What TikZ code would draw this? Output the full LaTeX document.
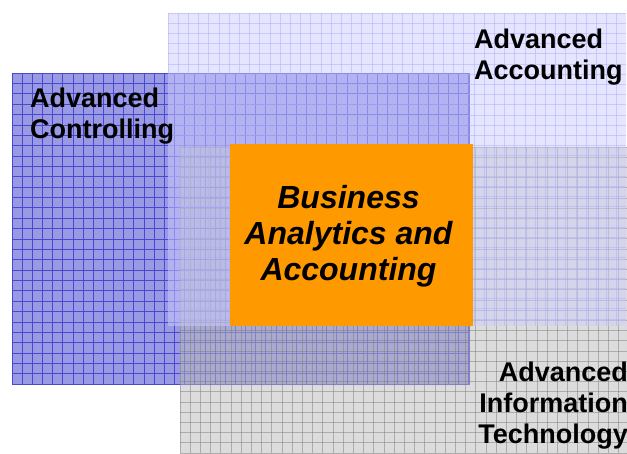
\documentclass[tikz,border=0pt]{standalone}
\usepackage{fontspec}
\setmainfont{Liberation Sans}
\definecolor{ctrlblue}{RGB}{154,154,228}
\definecolor{ctrlline}{RGB}{72,72,208}
\definecolor{acclav}{RGB}{205,205,255}
\definecolor{accline}{RGB}{175,175,245}
\definecolor{itgray}{RGB}{187,187,187}
\definecolor{itline}{RGB}{125,125,125}
\definecolor{coreorange}{RGB}{255,153,0}
\begin{document}
\begin{tikzpicture}[x=1pt,y=-1pt,
		area/.style={fill opacity=#1,draw opacity=#1,line width=.7pt},
		areatext/.style={font=\fontsize{27}{31}\selectfont\bfseries,inner sep=0pt},
		corebox/.style={fill=coreorange,inner sep=0pt,minimum width=243pt,minimum height=182pt},
		coretext/.style={inner sep=0pt,align=center,font=\fontsize{32}{36}\selectfont\bfseries\itshape}]
		\useasboundingbox [fill=white] (0,0) rectangle (627,453);
		\begin{scope}[area=1]
			\fill [ctrlblue] (12,73) rectangle (469,384);
			\foreach \x in {12,22.15,...,469} \draw [ctrlline] (\x,73) -- (\x,384);
			\foreach \y in {73,83.37,...,384} \draw [ctrlline] (12,\y) -- (469,\y);
			\draw [ctrlline] (12,73) rectangle (469,384);
		\end{scope}
		\begin{scope}[area=.5]
			\fill [itgray] (180,147) rectangle (640,460);
			\foreach \x in {180,190.2,...,627} \draw [itline] (\x,147) -- (\x,453);
			\foreach \y in {147,157.2,...,453} \draw [itline] (180,\y) -- (627,\y);
		\end{scope}
		\begin{scope}[area=.5]
			\fill [acclav] (168,13) rectangle (626,326);
			\foreach \x in {168,178.2,...,626} \draw [accline] (\x,13) -- (\x,326);
			\foreach \y in {13,23.2,...,326} \draw [accline] (168,\y) -- (626,\y);
		\end{scope}
		\node (core) [corebox] at (351.5,235) {};
		\node (coretitle) [coretext] at ([xshift=-3pt,yshift=-1pt]core.center) {Business\\Analytics and\\Accounting};
		\node (ctrl) [areatext,anchor=north west,align=left] at (30,88) {Advanced\\Controlling};
		\node (acc) [areatext,anchor=north west,align=left] at (474,29) {Advanced\\Accounting};
		\node (it) [areatext,anchor=north east,align=right] at (628,362) {Advanced\\Information\\Technology};
	\end{tikzpicture}
\end{document}
